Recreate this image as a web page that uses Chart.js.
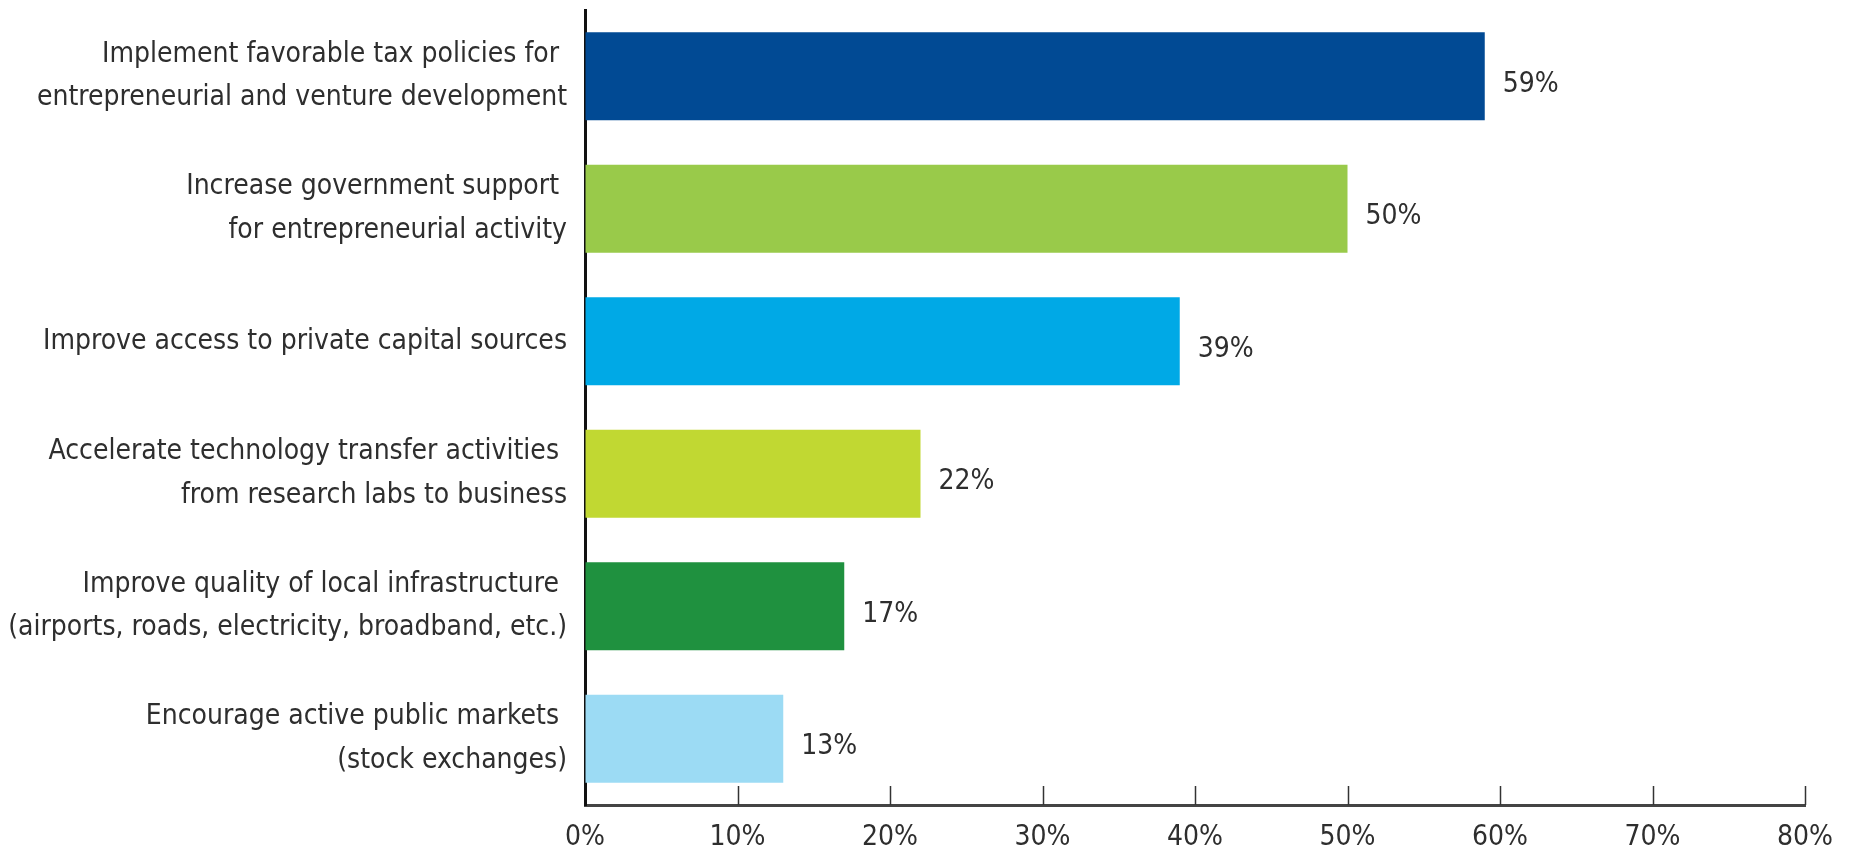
<!DOCTYPE html>
<html>
<head>
    <title>Entrepreneurial policy priorities</title>
    <script src="https://cdn.jsdelivr.net/npm/chart.js"></script>
    <style>
        html, body { margin: 0; padding: 0; background: #fff; }
        #wrap { width: 1853px; height: 855px; }
    </style>
</head>
<body>
    <div id="wrap"><canvas id="policyChart"></canvas></div>
    <script>
        // data
        var categories = [
            ['Implement favorable tax policies for ', 'entrepreneurial and venture development'],
            ['Increase government support ', 'for entrepreneurial activity'],
            ['Improve access to private capital sources'],
            ['Accelerate technology transfer activities ', 'from research labs to business'],
            ['Improve quality of local infrastructure ', '(airports, roads, electricity, broadband, etc.)'],
            ['Encourage active public markets ', '(stock exchanges)']
        ];
        var values = [59, 50, 39, 22, 17, 13];
        var barColors = ['#014a94', '#99ca4a', '#00a9e6', '#c1d832', '#1f913f', '#9cdbf4'];
        var xTicks = [0, 10, 20, 30, 40, 50, 60, 70, 80];

        var fontFamily = "'Liberation Sans Narrow', 'DejaVu Sans Condensed', sans-serif";
        var textColor = '#2e2e2e';

        // tick marks pointing up from the x axis + value labels
        var decorations = {
            id: 'decorations',
            afterDatasetsDraw: function(chart) {
                var c = chart.ctx;
                var xs = chart.scales.x;
                var area = chart.chartArea;
                c.save();
                c.strokeStyle = '#333';
                c.lineWidth = 1.5;
                xTicks.forEach(function(v) {
                    if (v === 0) return;
                    var px = Math.round(xs.getPixelForValue(v)) + 0.5;
                    c.beginPath();
                    c.moveTo(px, area.bottom);
                    c.lineTo(px, area.bottom - 19);
                    c.stroke();
                });
                c.fillStyle = textColor;
                c.font = '28px ' + fontFamily;
                c.textAlign = 'left';
                c.textBaseline = 'middle';
                chart.getDatasetMeta(0).data.forEach(function(bar, i) {
                    c.fillText(values[i] + '%', bar.x + 18, bar.y + 8);
                });
                c.restore();
            }
        };

        var ctx = document.getElementById('policyChart').getContext('2d');
        new Chart(ctx, {
            type: 'bar',
            data: {
                labels: categories,
                datasets: [{
                    data: values,
                    backgroundColor: barColors,
                    borderWidth: 0,
                    categoryPercentage: 1,
                    barPercentage: 0.664
                }]
            },
            plugins: [decorations],
            options: {
                indexAxis: 'y',
                responsive: true,
                maintainAspectRatio: false,
                animation: false,
                layout: { padding: { top: 10, right: 48, left: 0, bottom: 0 } },
                plugins: {
                    legend: { display: false },
                    tooltip: { enabled: false }
                },
                scales: {
                    x: {
                        min: 0,
                        max: 80,
                        afterFit: function(scale) {
                            scale.height = 50;
                            scale.paddingLeft = 0;
                            scale.paddingRight = 0;
                        },
                        afterBuildTicks: function(scale) {
                            scale.ticks = xTicks.map(function(v) { return { value: v }; });
                        },
                        ticks: {
                            color: textColor,
                            font: { family: fontFamily, size: 28 },
                            padding: 16,
                            maxRotation: 0,
                            callback: function(v) { return v + '%'; }
                        },
                        grid: { display: true, drawOnChartArea: false, drawTicks: false },
                        border: { display: true, color: '#444', width: 3 }
                    },
                    y: {
                        afterFit: function(scale) {
                            scale.width = 585;
                            scale.paddingTop = 0;
                            scale.paddingBottom = 0;
                        },
                        ticks: {
                            color: textColor,
                            font: { family: fontFamily, size: 28, lineHeight: 1.55 },
                            padding: 18
                        },
                        grid: { display: false, drawTicks: false },
                        border: { display: true, color: '#111', width: 3 }
                    }
                }
            }
        });
    </script>
</body>
</html>
